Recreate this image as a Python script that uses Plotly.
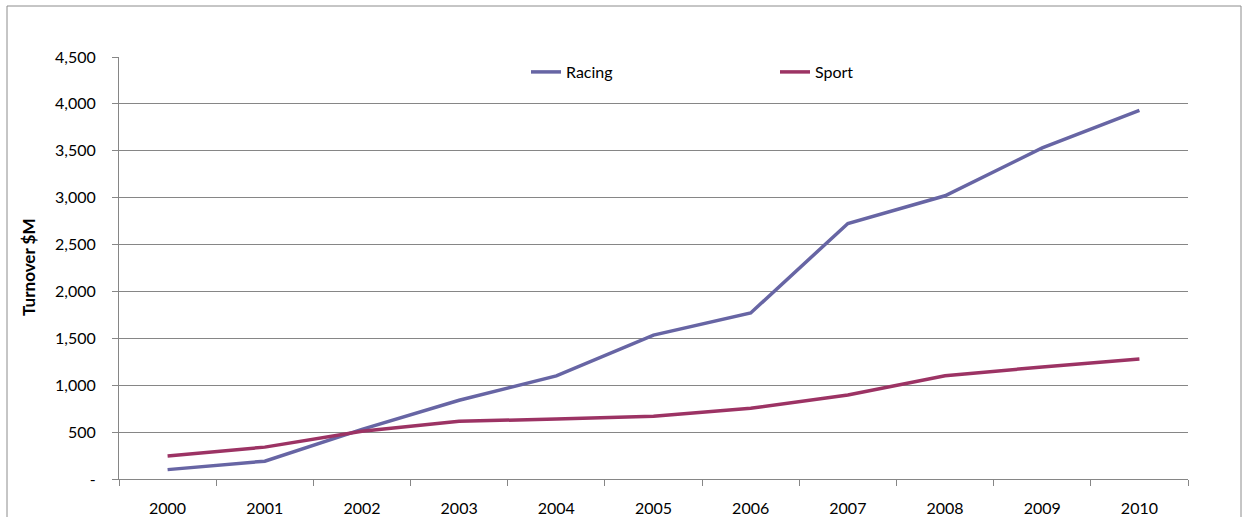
import plotly.graph_objects as go

years = ["2000", "2001", "2002", "2003", "2004", "2005", "2006", "2007", "2008", "2009", "2010"]
racing = [100, 190, 530, 840, 1100, 1535, 1770, 2725, 3020, 3530, 3930]
sport = [245, 340, 510, 615, 640, 670, 755, 895, 1100, 1195, 1280]
ytick_vals = [0, 500, 1000, 1500, 2000, 2500, 3000, 3500, 4000, 4500]
ytick_text = ["-", "500", "1,000", "1,500", "2,000", "2,500", "3,000", "3,500", "4,000", "4,500"]

W, H = 1247, 517
L, R, T, B = 119, 1188, 57, 479
pw, ph = R - L, B - T

def px(x):
    return (x - L) / pw

def py(y):
    return (B - y) / ph

FONT = "Lato"
GRID = "#868686"

fig = go.Figure()
fig.add_trace(go.Scatter(x=years, y=racing, name="Racing", mode="lines", showlegend=True,
                         line=dict(color="#6765A4", width=3.5), legend="legend"))
fig.add_trace(go.Scatter(x=years, y=sport, name="Sport", mode="lines", showlegend=True,
                         line=dict(color="#9C3364", width=3.5), legend="legend2"))

leg_common = dict(orientation="h", yanchor="middle", y=py(72), xanchor="left",
                  bgcolor="rgba(0,0,0,0)", borderwidth=0,
                  font=dict(family=FONT, size=16, color="#000000"))

fig.update_layout(
    width=W, height=H, showlegend=True,
    margin=dict(l=L, r=W - R, t=T, b=H - B, pad=0),
    paper_bgcolor="white", plot_bgcolor="white",
    font=dict(family=FONT, size=16, color="#000000"),
    legend=dict(x=px(526), **leg_common),
    legend2=dict(x=px(775), **leg_common),
    xaxis=dict(type="category", range=[-0.5, 10.5], tickson="boundaries", ticks="outside",
               ticklen=6, tickcolor=GRID, showline=True, linecolor=GRID, linewidth=1,
               showgrid=False, ticklabelstandoff=15, zeroline=False, automargin=False),
    yaxis=dict(range=[0, 4500], tickvals=ytick_vals, ticktext=ytick_text,
               ticks="outside", ticklen=6, tickcolor=GRID, showline=True,
               linecolor=GRID, linewidth=1, showgrid=True, gridcolor=GRID,
               gridwidth=1, zeroline=False, ticklabelstandoff=13, automargin=False),
    shapes=[
        dict(type="rect", xref="paper", yref="paper", x0=px(444), x1=px(934),
             y0=py(50), y1=py(64), fillcolor="white", line=dict(width=0), layer="above"),
        dict(type="rect", xref="paper", yref="paper", x0=px(7), x1=px(1241),
             y0=py(540), y1=py(6), fillcolor="rgba(0,0,0,0)",
             line=dict(color="#8C8C8C", width=1), layer="below"),
    ],
    annotations=[
        dict(text="<b>Turnover $M</b>", xref="paper", yref="paper", x=px(28), y=py(268),
             xanchor="center", yanchor="middle", textangle=-90, showarrow=False,
             font=dict(family=FONT, size=17, color="#000000")),
    ],
)

fig.write_html("out.html")
